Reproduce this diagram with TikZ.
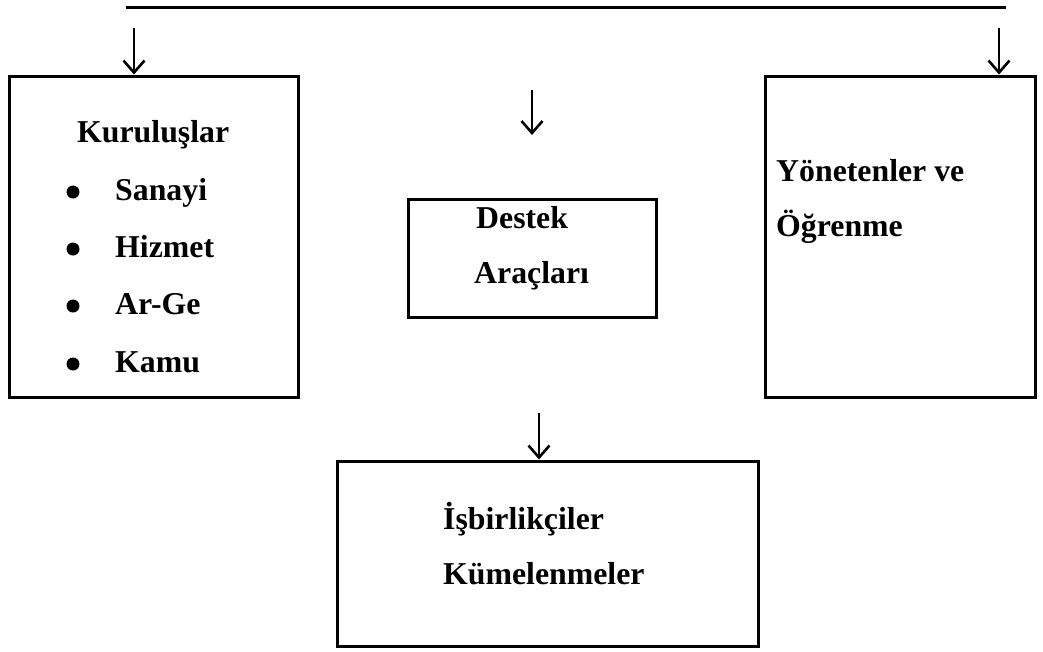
\documentclass[tikz,border=0pt]{standalone}
\usepackage{fontspec}
\setmainfont{Liberation Serif}
\usetikzlibrary{arrows.meta}
\begin{document}
\begin{tikzpicture}[x=1pt,y=-1pt,
  box/.style={draw, line width=3pt, inner sep=0pt},
  lbl/.style={font=\fontsize{31.8}{36}\selectfont\bfseries, anchor=base west, inner sep=0pt},
  arr/.style={line width=2.2pt, -{Straight Barb[length=12pt,width=21pt,line width=2.6pt]}},
  dotnode/.style={circle, fill, inner sep=0pt, minimum size=13pt},
  topline/.style={line width=3pt}]
\useasboundingbox (0,0) rectangle (1043,651);
% boxes
\node[box, minimum width=289pt, minimum height=321pt] (org) at (153.5,236.5) {};
\node[box, minimum width=248pt, minimum height=118pt] (destek) at (532,258) {};
\node[box, minimum width=270pt, minimum height=321pt] (yon) at (900,236.5) {};
\node[box, minimum width=421pt, minimum height=185pt] (isb) at (547.5,553.5) {};
% top line
\coordinate (tl) at (126,7.5);
\coordinate (tr) at (1006,7.5);
\draw[topline] (tl) -- (tr);
% arrows
\coordinate (la) at (134,28);
\coordinate (ra) at (999,28);
\coordinate (ma) at (532,90);
\coordinate (mb) at (532,135);
\coordinate (ba) at (539,413);
\draw[arr] (la) -- (la |- org.north);
\draw[arr] (ra) -- (ra |- yon.north);
\draw[arr] (ma) -- (mb);
\draw[arr] (ba) -- (ba |- isb.north);
% texts
\node[lbl] (t1) at (77,142) {Kuruluşlar};
\node[dotnode] (b1) at (73,192) {};
\node[lbl] (t2) at (115,200) {Sanayi};
\node[dotnode] (b2) at (73,249) {};
\node[lbl] (t3) at (115,257) {Hizmet};
\node[dotnode] (b3) at (73,306) {};
\node[lbl] (t4) at (115,314) {Ar-Ge};
\node[dotnode] (b4) at (73,364) {};
\node[lbl] (t5) at (115,372) {Kamu};
\node[lbl] (d1) at (476,228) {Destek};
\node[lbl] (d2) at (474,283) {Araçları};
\node[lbl] (y1) at (776,181) {Yönetenler ve};
\node[lbl] (y2) at (776,236) {Öğrenme};
\node[lbl] (i1) at (443,529) {İşbirlikçiler};
\node[lbl] (i2) at (443,584) {Kümelenmeler};
\end{tikzpicture}
\end{document}
